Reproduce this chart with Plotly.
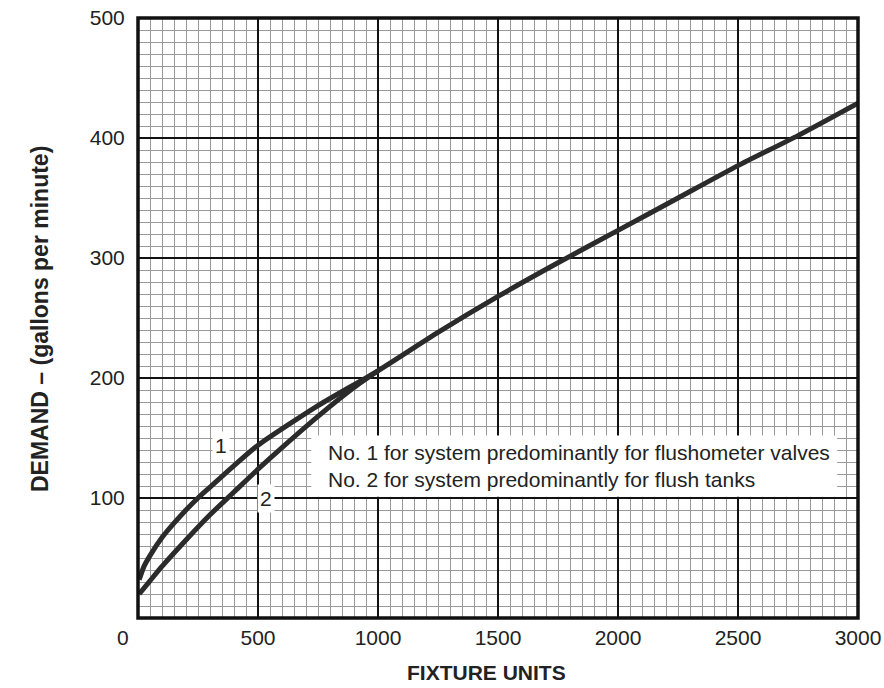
import plotly.graph_objects as go

# Curve 1: system predominantly for flushometer valves
fu_1 = [5, 25, 50, 100, 150, 200, 250, 300, 400, 500, 750, 1000, 1250, 1500, 1750, 2000, 2250, 2500, 2750, 3000]
gpm_1 = [32, 43, 52, 67, 79, 90, 100, 109, 127, 144, 177, 206, 238, 268, 296, 323, 350, 377, 402, 429]
# Curve 2: system predominantly for flush tanks
fu_2 = [5, 50, 100, 200, 300, 400, 500, 600, 750, 900, 1000]
gpm_2 = [20, 31, 43, 65, 86, 105, 124, 142, 168, 192, 206]

x_ticks = [500, 1000, 1500, 2000, 2500, 3000]
y_ticks = [100, 200, 300, 400, 500]
curve_labels = ["1", "2"]
label_pos = [(347, 144), (532, 100)]
note_lines = ["No. 1 for system predominantly for flushometer valves",
              "No. 2 for system predominantly for flush tanks"]

FONT = "Liberation Sans, Arial, Helvetica, sans-serif"
INK = "#2b2b2b"

fig = go.Figure()
for xs, ys in [(fu_1, gpm_1), (fu_2, gpm_2)]:
    fig.add_trace(go.Scatter(x=xs, y=ys, mode="lines",
                             line=dict(color=INK, width=5, shape="spline", smoothing=0.6),
                             showlegend=False, hoverinfo="skip"))

fig.update_layout(
    width=884, height=688,
    margin=dict(l=138, r=26, t=18, b=70, autoexpand=False),
    paper_bgcolor="white", plot_bgcolor="white",
    font=dict(family=FONT, color="#222", size=21),
    xaxis=dict(range=[0, 3000], tickvals=x_ticks, ticktext=[str(v) for v in x_ticks],
               showgrid=True, gridcolor="#111", gridwidth=2,
               minor=dict(dtick=50, tick0=0, showgrid=True, gridcolor="#9a9a9a", gridwidth=1.3),
               ticks="outside", ticklen=1, tickcolor="rgba(0,0,0,0)", automargin=False,
               zeroline=False, showline=False, fixedrange=True),
    yaxis=dict(range=[0, 500], tickvals=y_ticks, ticktext=[str(v) for v in y_ticks],
               showgrid=True, gridcolor="#111", gridwidth=2,
               minor=dict(dtick=10, tick0=0, showgrid=True, gridcolor="#9a9a9a", gridwidth=1.3),
               ticks="outside", ticklen=8, tickcolor="rgba(0,0,0,0)", automargin=False,
               zeroline=False, showline=False, fixedrange=True),
)

# frame
fig.add_shape(type="rect", xref="paper", yref="paper", x0=0, x1=1, y0=0, y1=1,
              line=dict(color="#111", width=3.5), layer="above")

# note box
fig.add_shape(type="rect", xref="x", yref="y", x0=722, x1=2913, y0=101, y1=152,
              fillcolor="white", line=dict(width=0), layer="above")
fig.add_annotation(x=785, y=127, xref="x", yref="y", xanchor="left", yanchor="middle",
                   text="<br>".join(note_lines), showarrow=False, align="left",
                   font=dict(size=21, color="#222", family=FONT))

# curve labels
for t, (lx, ly) in zip(curve_labels, label_pos):
    fig.add_annotation(x=lx, y=ly, xref="x", yref="y", text=t, showarrow=False,
                       bgcolor="white", borderpad=2, xanchor="center", yanchor="middle",
                       font=dict(size=21, color="#222", family=FONT))

# "0" tick label
fig.add_annotation(x=(123 - 138) / 720, y=(618 - 637) / 600, xref="paper", yref="paper",
                   xanchor="center", yanchor="middle",
                   text="0", showarrow=False, font=dict(size=21, color="#222", family=FONT))

# axis titles
fig.add_annotation(x=(486 - 138) / 720, y=(618 - 673) / 600, xref="paper", yref="paper",
                   xanchor="center", yanchor="middle",
                   text="<b>FIXTURE UNITS</b>", showarrow=False,
                   font=dict(size=21, color="#222", family=FONT))
fig.add_annotation(x=(40 - 138) / 720, y=(618 - 319) / 600, xref="paper", yref="paper",
                   xanchor="center", yanchor="middle",
                   text="<b>DEMAND – (gallons per minute)</b>", showarrow=False, textangle=-90,
                   font=dict(size=23, color="#222", family=FONT))

fig.write_html("out.html", config={"displayModeBar": False},
               post_script="document.body.style.margin='0';document.body.style.overflow='hidden';")
